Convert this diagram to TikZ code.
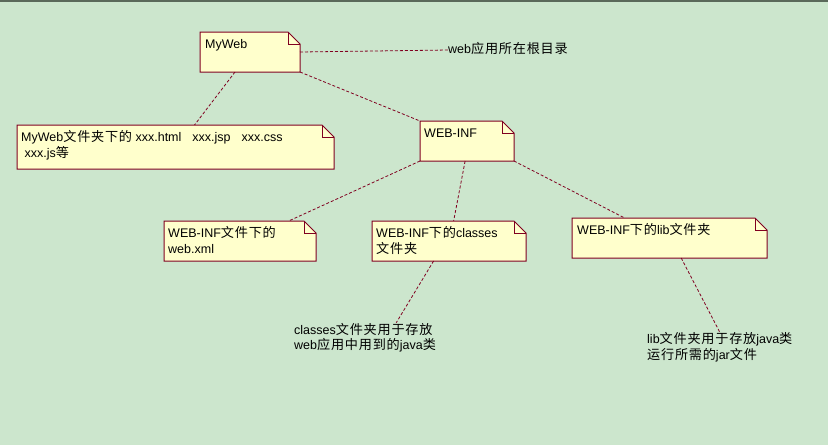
\documentclass[tikz,border=0pt]{standalone}
\usepackage{fontspec}
\setmainfont{Liberation Sans}
\newfontfamily\cjk{Noto Sans CJK SC}[Scale=1.05, LetterSpace=6]
\newcommand\zh[1]{{\cjk #1}}
\usetikzlibrary{calc}
\definecolor{bgc}{RGB}{204,230,205}
\definecolor{notefill}{RGB}{255,255,204}
\definecolor{noteline}{RGB}{128,0,32}
\definecolor{topline}{RGB}{90,105,90}
\tikzset{
  notebox/.style={rectangle, draw=none, inner sep=0pt, outer sep=0pt, anchor=north west},
  notetext/.style={anchor=base west, inner sep=0pt, align=left, font=\fontsize{12.5}{16}\selectfont},
  freetext/.style={anchor=base west, inner sep=0pt, align=left, font=\fontsize{12.5}{15.5}\selectfont},
  conn/.style={draw=noteline, line width=0.8pt, dash pattern=on 3pt off 2pt},
}
\newcommand\dogear[1]{%
  \filldraw[fill=notefill, draw=noteline, line width=1pt] (#1.north west) -- ([xshift=-12pt]#1.north east) -- ([yshift=-12pt]#1.north east) -- (#1.south east) -- (#1.south west) -- cycle;
  \draw[noteline, line width=1pt] ([xshift=-12pt]#1.north east) |- ([yshift=-12pt]#1.north east);}
\begin{document}
\begin{tikzpicture}[x=1pt, y=-1pt]
\fill[bgc] (0,0) rectangle (828,445);
\useasboundingbox (0,0) rectangle (828,445);
\fill[topline] (0,0) rectangle (828,1.5);

% note boxes
\node[notebox, minimum width=100pt, minimum height=40pt] (myweb) at (200,32) {};
\node[notebox, minimum width=317pt, minimum height=44pt] (pages) at (17,125) {};
\node[notebox, minimum width=94pt, minimum height=40pt] (webinf) at (420,121) {};
\node[notebox, minimum width=152pt, minimum height=40pt] (webxml) at (164,221) {};
\node[notebox, minimum width=154pt, minimum height=40pt] (classes) at (372,221) {};
\node[notebox, minimum width=195pt, minimum height=40pt] (lib) at (572,218) {};

\dogear{myweb}
\dogear{pages}
\dogear{webinf}
\dogear{webxml}
\dogear{classes}
\dogear{lib}

% texts in notes (base anchor = baseline of the last line)
\node[notetext] (t-myweb) at ([xshift=5pt,yshift=-16pt]myweb.north west) {MyWeb};
\node[notetext] (t-pages) at ([xshift=4pt,yshift=-32pt]pages.north west) {MyWeb\zh{文件夹下的}\ xxx.html\hspace{11pt}xxx.jsp\hspace{11pt}xxx.css\\\ xxx.js\zh{等}};
\node[notetext] (t-webinf) at ([xshift=4pt,yshift=-16pt]webinf.north west) {WEB-INF};
\node[notetext] (t-webxml) at ([xshift=4pt,yshift=-32pt]webxml.north west) {WEB-INF\zh{文件下的}\\web.xml};
\node[notetext] (t-classes) at ([xshift=4pt,yshift=-32pt]classes.north west) {WEB-INF\zh{下的}classes\\\zh{文件夹}};
\node[notetext] (t-lib) at ([xshift=5pt,yshift=-16pt]lib.north west) {WEB-INF\zh{下的}lib\zh{文件夹}};

% free labels
\node[freetext] (rootlbl) at (448,53) {web\zh{应用所在根目录}};
\node[freetext] (classlbl) at (294,349.5) {classes\zh{文件夹用于存放}\\web\zh{应用中用到的}java\zh{类}};
\node[freetext] (liblbl) at (647,359) {lib\zh{文件夹用于存放}java\zh{类}\\\zh{运行所需的}jar\zh{文件}};

% connectors
\draw[conn] (myweb.east) -- ([yshift=-2pt]rootlbl.west);
\draw[conn] ($(myweb.south west)!0.35!(myweb.south east)$) -- ($(pages.north west)!0.56!(pages.north east)$);
\draw[conn] (myweb.south east) -- (webinf.north west);
\draw[conn] (webinf.south west) -- ($(webxml.north west)!0.82!(webxml.north east)$);
\draw[conn] ($(webinf.south west)!0.48!(webinf.south east)$) -- ($(classes.north west)!0.53!(classes.north east)$);
\draw[conn] (webinf.south east) -- ($(lib.north west)!0.27!(lib.north east)$);
\draw[conn] ($(classes.south west)!0.4!(classes.south east)$) -- ($(classlbl.north west)!0.72!(classlbl.north east)$);
\draw[conn] ($(lib.south west)!0.56!(lib.south east)$) -- ($(liblbl.north west)!0.5!(liblbl.north east)$);
\end{tikzpicture}
\end{document}
